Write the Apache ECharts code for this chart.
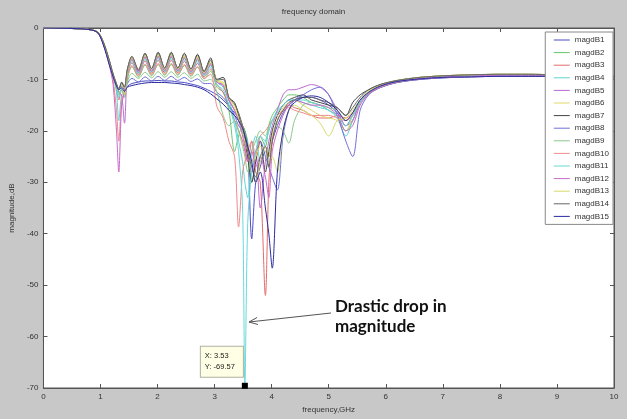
<!DOCTYPE html>
<html>
<head>
<meta charset="utf-8">
<script src="https://cdn.jsdelivr.net/npm/echarts@6/dist/echarts.min.js"></script>
<style>
  html, body { margin: 0; padding: 0; background: #c8c8c8; }
  #chart { width: 627px; height: 419px; }
</style>
</head>
<body>
<div id="chart"></div>
<script>
// frequency grid, GHz
const freq = [
  0, 0.5, 0.8, 0.95, 1.05, 1.15, 1.22, 1.28, 1.32, 1.37, 1.42, 1.47,
  1.55, 1.665, 1.78, 1.895, 2.01, 2.125, 2.24, 2.355, 2.47, 2.585, 2.7, 2.815, 2.93, 3.04, 3.15,
  3.25, 3.35, 3.42, 3.49, 3.53, 3.58, 3.65, 3.72, 3.8, 3.89, 3.95, 4.01, 4.1, 4.2, 4.3,
  4.4, 4.55, 4.7, 4.85, 5.0, 5.15, 5.3, 5.42, 5.55, 5.7, 5.9, 6.2, 6.6, 7.0, 7.5, 8.0, 8.5, 9.0, 9.5, 10
]

const magdB1 = [
  0, -0.1, -0.3, -0.9, -3.2, -6.8, -9.3, -11.2, -12, -11.5, -12, -11.3,
  -10.8, -10.5, -10.3, -10.3, -10.2, -10.3, -10.3, -10.5, -10.6, -10.9, -11.2, -11.7, -12.3, -13, -14,
  -15.2, -16.5, -17.5, -19, -20, -23, -41, -30, -27, -24, -25, -22, -19, -16.5, -15,
  -14, -13.5, -13.5, -14, -15, -16.5, -19, -17, -14.5, -12.8, -11.6, -10.6, -10, -9.7, -9.5, -9.4, -9.4, -9.4, -9.5, -9.6
]
const magdB2 = [
  0, -0.1, -0.3, -0.9, -3, -6.5, -9.2, -11.4, -13, -12, -13.5, -10,
  -7.5, -9.5, -7.2, -9.3, -7.1, -9.2, -7.1, -9.2, -7.3, -9.4, -7.6, -9.9, -8.4, -11.5, -12.5,
  -16, -24, -21, -19, -20, -22, -30, -26, -21, -23, -19, -17, -15.5, -14, -13,
  -13, -13.5, -14.5, -15, -16, -17, -20, -18, -14.5, -12.5, -11.2, -10.3, -9.8, -9.5, -9.3, -9.2, -9.2, -9.3, -9.4, -9.5
]
const magdB3 = [
  0, -0.1, -0.3, -0.8, -2.9, -6.4, -9.1, -12, -14, -12, -13, -9,
  -6.8, -9, -6.4, -8.8, -6.3, -8.7, -6.3, -8.7, -6.5, -8.9, -6.9, -9.5, -8, -11, -12.5,
  -15, -18, -20, -22, -24, -26, -22, -28, -30, -52, -30, -22, -18, -16, -15,
  -15.5, -16, -17, -17.5, -17.5, -17, -17.5, -16.5, -14, -12.5, -11.5, -10.5, -9.8, -9.5, -9.2, -9.1, -9.1, -9.2, -9.3, -9.4
]
const magdB4 = [
  0, -0.1, -0.3, -0.8, -2.8, -6.3, -9, -12.5, -18, -13, -12.5, -8.5,
  -6.3, -8.7, -5.8, -8.5, -5.7, -8.4, -5.7, -8.4, -5.9, -8.6, -6.3, -9.1, -7.3, -10.5, -11.5,
  -14, -18, -22, -26, -30, -33, -24, -21, -26, -22, -20, -18, -16, -15, -14,
  -14, -14.5, -15, -15.5, -16, -17.5, -21, -18, -14.5, -12.5, -11.3, -10.4, -9.8, -9.5, -9.3, -9.2, -9.2, -9.2, -9.3, -9.4
]
const magdB5 = [
  0, -0.1, -0.3, -0.8, -2.8, -6.2, -9, -11, -12.5, -13, -18.5, -9,
  -5.9, -8.4, -5.5, -8.2, -5.4, -8.1, -5.4, -8.1, -5.6, -8.3, -5.9, -8.8, -6.9, -10.5, -11,
  -14, -16, -18, -20, -22, -25, -28, -24, -35, -26, -22, -19, -16, -13, -12,
  -12, -11.5, -11, -11.5, -13, -16, -19, -18, -14.5, -12.5, -11.2, -10.3, -9.7, -9.4, -9.2, -9.1, -9.1, -9.2, -9.3, -9.3
]
const magdB6 = [
  0, -0.1, -0.3, -0.8, -2.7, -6.1, -8.9, -10.8, -11.8, -11, -12, -8.5,
  -5.6, -8, -5.2, -7.9, -5.1, -7.9, -5.1, -7.9, -5.3, -8.1, -5.6, -8.6, -6.5, -10.2, -10.5,
  -13.5, -15, -17, -19, -21, -24, -27, -30, -26, -23, -25, -21, -18, -15.5, -14.5,
  -14, -15, -16, -17, -17.5, -18, -20, -17, -14, -12.3, -11.2, -10.2, -9.6, -9.3, -9.1, -9, -9, -9.1, -9.2, -9.3
]
const magdB7 = [
  0, -0.1, -0.3, -0.8, -2.8, -6.2, -9, -11, -12, -10.5, -11.5, -8,
  -5.6, -8.2, -4.9, -7.9, -4.7, -7.8, -4.7, -7.8, -4.9, -8, -5.1, -8.4, -5.8, -10, -9.6,
  -13.5, -14.5, -17, -20, -22, -25, -30, -26, -22, -28, -24, -20, -17, -15, -14,
  -13.5, -13, -14, -14.5, -15, -15.5, -17, -14.5, -13, -12, -11, -10.2, -9.6, -9.3, -9.1, -9, -9, -9.1, -9.2, -9.3
]
const magdB8 = [
  0, -0.1, -0.3, -0.9, -3.1, -6.6, -9.2, -11, -11.8, -11.3, -12, -10.8,
  -9.8, -10.5, -9.5, -10.3, -9.4, -10.2, -9.4, -10.2, -9.6, -10.4, -9.9, -10.8, -10.8, -12.5, -13.5,
  -15, -17, -19, -20, -21, -23, -26, -24, -22, -25, -27, -29, -31.5, -21, -16,
  -14, -13, -12, -11.5, -13, -17, -22, -25, -16, -13, -11.6, -10.6, -10, -9.7, -9.5, -9.4, -9.4, -9.4, -9.5, -9.6
]
const magdB9 = [
  0, -0.1, -0.3, -0.9, -3, -6.5, -9.1, -11.3, -12.5, -12, -13, -10.5,
  -8.8, -9.8, -8.6, -9.7, -8.5, -9.6, -8.5, -9.6, -8.7, -9.8, -9, -10.3, -10, -12.5, -17,
  -19, -18, -20, -23, -25, -28, -24, -22, -20, -21, -19, -18, -19, -20, -22.4,
  -18, -15, -14.5, -15, -15.5, -16, -18, -17, -14.5, -12.7, -11.4, -10.4, -9.8, -9.5, -9.3, -9.2, -9.2, -9.3, -9.4, -9.5
]
const magdB10 = [
  0, -0.1, -0.3, -0.9, -3.1, -6.8, -10, -16, -22, -14, -12.5, -9.5,
  -7.3, -9.3, -7, -9.1, -6.9, -9, -6.9, -9, -7.1, -9.2, -7.5, -9.8, -9, -15.3, -17.5,
  -22, -25, -38.7, -28, -26, -24, -22, -25, -21, -20, -19, -18, -17, -16, -15.5,
  -16, -16.5, -17, -17, -17, -17.5, -18, -17, -14.5, -12.8, -11.5, -10.5, -9.9, -9.6, -9.4, -9.3, -9.3, -9.3, -9.4, -9.5
]
const magdB11 = [
  0, -0.1, -0.3, -0.8, -2.9, -6.4, -9.1, -11.5, -13.5, -12, -12.5, -8.8,
  -6.6, -8.9, -6.1, -8.6, -6, -8.5, -6, -8.5, -6.2, -8.7, -6.6, -9.3, -7.6, -11, -12,
  -15, -19, -24, -35, -69.57, -38, -28, -24, -21, -22, -20, -18, -16.5, -15, -14,
  -14, -14, -14.5, -15, -16, -17, -19, -17, -14.5, -12.5, -11.3, -10.4, -9.8, -9.5, -9.3, -9.2, -9.2, -9.2, -9.3, -9.4
]
const magdB12 = [
  0, -0.1, -0.3, -0.9, -3.2, -7, -11, -20, -28, -15, -12.5, -9,
  -6.1, -8.6, -5.7, -8.4, -5.6, -8.3, -5.6, -8.3, -5.8, -8.5, -6.1, -9, -7.1, -10.5, -11.2,
  -14, -16, -18, -21, -23, -26, -24, -27, -25, -29, -33, -24, -20, -17, -15,
  -14, -14.5, -15, -15, -15.5, -17, -20, -19, -15, -12.8, -11.4, -10.4, -9.8, -9.5, -9.3, -9.2, -9.2, -9.2, -9.3, -9.4
]
const magdB13 = [
  0, -0.1, -0.3, -0.8, -2.8, -6.2, -9, -10.9, -12, -11.5, -13, -8.7,
  -5.7, -8.1, -5.3, -8, -5.2, -8, -5.2, -8, -5.4, -8.2, -5.7, -8.7, -6.7, -10.3, -10.8,
  -13.5, -15.5, -17.5, -20, -22, -24, -26, -25, -23, -24, -26, -25, -28, -20, -16,
  -15, -16, -17, -18.5, -21, -18, -17.5, -16, -14, -12.3, -11.1, -10.2, -9.6, -9.3, -9.1, -9, -9, -9.1, -9.2, -9.3
]
const magdB14 = [
  0, -0.1, -0.3, -0.8, -2.7, -6.1, -8.9, -10.8, -11.8, -10.8, -11.5, -8.2,
  -5.5, -8.1, -5, -7.9, -4.9, -7.8, -4.9, -7.8, -5, -8, -5.3, -8.5, -6.2, -10.1, -10,
  -13.5, -14.8, -16.5, -19, -21, -24, -27, -29, -25, -23, -27, -22, -18, -16, -14.5,
  -14, -13.5, -13.5, -14, -14.5, -15.5, -17, -15.5, -13.5, -12, -11, -10.2, -9.6, -9.3, -9.1, -9, -9, -9.1, -9.2, -9.3
]
const magdB15 = [
  0, -0.1, -0.3, -0.9, -3.3, -7, -9.5, -11.3, -12, -11.7, -12.3, -11.5,
  -11.2, -10.9, -10.7, -10.6, -10.6, -10.6, -10.7, -10.8, -11, -11.2, -11.5, -12, -12.8, -13.8, -14.8,
  -16, -17, -18, -19.5, -21, -23, -26, -30, -28, -35, -40, -46.7, -28, -20, -16,
  -14.5, -13.5, -13.2, -13.5, -14.5, -16, -18, -16.5, -14, -12.5, -11.3, -10.4, -9.9, -9.6, -9.5, -9.4, -9.4, -9.4, -9.5, -9.6
]

const seriesNames = [
  'magdB1', 'magdB2', 'magdB3', 'magdB4', 'magdB5', 'magdB6', 'magdB7', 'magdB8',
  'magdB9', 'magdB10', 'magdB11', 'magdB12', 'magdB13', 'magdB14', 'magdB15'
]
const seriesValues = [
  magdB1, magdB2, magdB3, magdB4, magdB5, magdB6, magdB7, magdB8,
  magdB9, magdB10, magdB11, magdB12, magdB13, magdB14, magdB15
]
const colors = [
  '#4b4bc8', '#6cc46c', '#e26a6a', '#5fd3d3', '#b96ad0', '#e2d86a', '#444444', '#6f6fd8',
  '#8ac88a', '#f08a8a', '#68d8d8', '#c86ac8', '#d5dc6a', '#666666', '#2a2aa0'
]
const xTicks = [0, 10, 1]   // min, max, interval
const yTicks = [-70, 0, 10]

// data tip sits on the deepest point of magdB11
const tipIndex = 31

const chart = echarts.init(document.getElementById('chart'))

const axisColor = '#555'
const font = 'Liberation Sans, Arial, sans-serif'

const makeAxis = (range, position, showLabel, extra) => Object.assign({
  type: 'value',
  position: position,
  min: range[0],
  max: range[1],
  interval: range[2],
  axisLine: { show: true, onZero: false, lineStyle: { color: axisColor, width: 1 } },
  axisTick: { show: true, inside: true, length: 4, lineStyle: { color: axisColor } },
  axisLabel: { show: showLabel, fontSize: 8, color: '#333', fontFamily: font, margin: 5 },
  splitLine: { show: false },
}, extra || {})

const series = seriesNames.map((name, k) => {
  const s = {
    name: name,
    type: 'line',
    xAxisIndex: 0,
    yAxisIndex: 0,
    symbol: 'none',
    smooth: 0.3,
    animation: false,
    data: freq.map((f, i) => [f, seriesValues[k][i]]),
    lineStyle: { width: 1, color: colors[k] },
    itemStyle: { color: colors[k] },
  }
  if (name === 'magdB11') {
    s.markPoint = {
      symbol: 'rect',
      symbolSize: 6,
      itemStyle: { color: '#000' },
      data: [{ coord: [freq[tipIndex], magdB11[tipIndex]] }],
      label: {
        show: true,
        position: [-41, -36],
        formatter: 'X: ' + freq[tipIndex] + '\nY: ' + magdB11[tipIndex],
        fontSize: 7.5,
        lineHeight: 11,
        color: '#222',
        fontFamily: font,
        backgroundColor: '#ffffe6',
        borderColor: '#b0b0a0',
        borderWidth: 1,
        padding: [4, 8, 4, 4],
        align: 'left',
      },
    }
  }
  return s
})

chart.setOption({
  backgroundColor: '#c8c8c8',
  animation: false,
  color: colors,
  title: {
    text: 'frequency domain',
    left: 'center',
    top: 3,
    textStyle: { fontSize: 8, fontWeight: 'normal', color: '#333', fontFamily: font },
  },
  grid: {
    left: 43,
    right: 13,
    top: 28,
    bottom: 31,
    show: true,
    backgroundColor: '#fff',
    borderColor: axisColor,
    borderWidth: 1,
  },
  legend: {
    orient: 'vertical',
    right: 14,
    top: 32,
    data: seriesNames,
    itemWidth: 16,
    itemHeight: 10,
    itemGap: 2.6,
    padding: [3, 4, 3, 8],
    backgroundColor: '#fff',
    borderColor: '#888',
    borderWidth: 1,
    textStyle: { fontSize: 8, color: '#333', fontFamily: font, lineHeight: 10 },
    itemStyle: { opacity: 0 },
    lineStyle: { width: 1 },
  },
  xAxis: [
    makeAxis(xTicks, 'bottom', true, {
      name: 'frequency,GHz',
      nameLocation: 'middle',
      nameGap: 17,
      nameTextStyle: { fontSize: 8, color: '#333', fontFamily: font },
    }),
    makeAxis(xTicks, 'top', false),
  ],
  yAxis: [
    makeAxis(yTicks, 'left', true, {
      name: 'magnitude,dB',
      nameLocation: 'middle',
      nameGap: 27,
      nameTextStyle: { fontSize: 8, color: '#333', fontFamily: font },
    }),
    makeAxis(yTicks, 'right', false),
  ],
  series: series,
  graphic: [
    {
      type: 'text',
      left: 335,
      top: 297,
      z: 100,
      style: {
        text: 'Drastic drop in\nmagnitude',
        font: 'bold 17px Lato, "Open Sans", sans-serif',
        lineHeight: 20,
        fill: '#111',
      },
    },
    {
      type: 'line',
      z: 100,
      shape: { x1: 331, y1: 313, x2: 249, y2: 322 },
      style: { stroke: '#555', lineWidth: 1 },
    },
    {
      type: 'polyline',
      z: 100,
      shape: { points: [[257, 317.5], [249, 322], [258, 324.5]] },
      style: { stroke: '#555', lineWidth: 1, fill: null },
    },
  ],
})
</script>
</body>
</html>
